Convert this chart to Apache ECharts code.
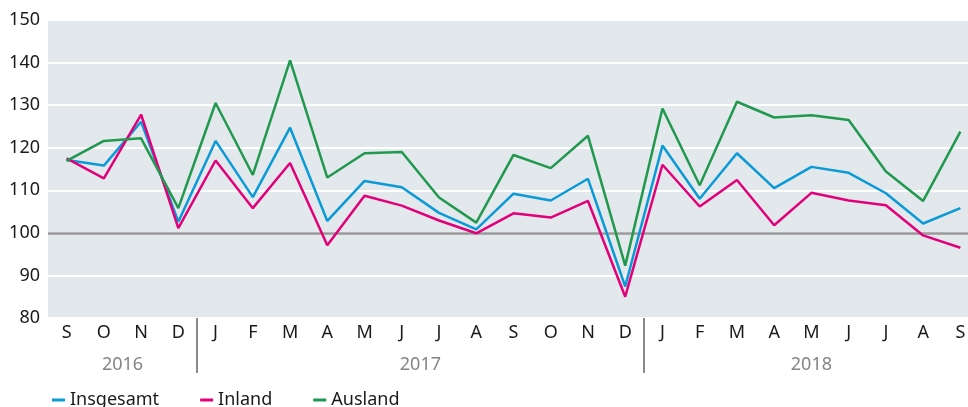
<!DOCTYPE html>
<html>
<head>
<meta charset="utf-8">
<script src="https://cdn.jsdelivr.net/npm/echarts@6/dist/echarts.min.js"></script>
<style>
  html, body { margin: 0; padding: 0; background: #fff; overflow: hidden; }
  /* Das Diagramm läuft rechts etwas über den Bildrand hinaus, wie im Original */
  #chart { width: 979px; height: 407px; }
</style>
</head>
<body>
<div id="chart"></div>
<script>
// Monate Sep 2016 – Sep 2018
const months = ['S', 'O', 'N', 'D', 'J', 'F', 'M', 'A', 'M', 'J', 'J', 'A', 'S', 'O', 'N', 'D', 'J', 'F', 'M', 'A', 'M', 'J', 'J', 'A', 'S']
// Jahre: Beschriftung in der Mitte der Gruppe, Trenner zwischen den Gruppen
const years = ['2016', '2017', '2018']
const yearCenters = [1.5, 9.5, 20]
const yearBreaks = [3.5, 15.5]
const yTicks = [80, 90, 100, 110, 120, 130, 140, 150]

const insgesamt = [117.1, 115.8, 126.1, 102.6, 121.6, 108.4, 124.7, 102.8, 112.2, 110.7, 104.7, 100.8, 109.2, 107.6, 112.7, 87.4, 120.5, 108.0, 118.7, 110.5, 115.5, 114.1, 109.3, 102.2, 105.8]
const inland = [117.5, 112.8, 127.8, 101.1, 117.0, 105.8, 116.4, 97.1, 108.7, 106.4, 102.9, 99.9, 104.6, 103.6, 107.5, 85.0, 116.0, 106.2, 112.4, 101.8, 109.4, 107.6, 106.5, 99.4, 96.5]
const ausland = [116.9, 121.6, 122.2, 105.8, 130.5, 113.6, 140.5, 113.0, 118.7, 119.0, 108.3, 102.4, 118.3, 115.2, 122.8, 92.3, 129.2, 111.2, 130.8, 127.1, 127.6, 126.5, 114.4, 107.5, 123.8]

const FONT = 'Noto Sans'
const chart = echarts.init(document.getElementById('chart'))

const line = (name, data, color) => ({
  name,
  type: 'line',
  data,
  symbol: 'none',
  lineStyle: {width: 2.5, color},
  itemStyle: {color},
  z: 3,
})

chart.setOption({
  animation: false,
  textStyle: {fontFamily: FONT},
  grid: {
    left: 48,
    right: 0,
    top: 20,
    bottom: 89,
    show: true,
    backgroundColor: '#e3e8ec',
    borderWidth: 0,
  },
  legend: {
    left: 47,
    top: 386,
    icon: 'rect',
    itemWidth: 13,
    itemHeight: 3,
    itemGap: 41,
    textStyle: {fontSize: 18, color: '#1a1a1a', fontFamily: FONT},
    data: ['Insgesamt', 'Inland', 'Ausland'],
  },
  xAxis: [
    {
      type: 'category',
      data: months,
      boundaryGap: true,
      axisLine: {show: false},
      axisTick: {show: false},
      axisLabel: {fontSize: 18, color: '#1a1a1a', margin: 6, interval: 0},
    },
    {
      // Jahresachse mit Trennern
      type: 'value',
      min: -0.5,
      max: months.length - 0.5,
      position: 'bottom',
      axisLine: {show: false},
      splitLine: {show: false},
      axisTick: {
        show: true,
        customValues: yearBreaks,
        length: 55,
        inside: false,
        lineStyle: {color: '#8a8a8a', width: 2},
      },
      axisLabel: {
        customValues: yearCenters,
        formatter: (v) => years[yearCenters.indexOf(v)],
        fontSize: 18,
        color: '#858585',
        margin: 38,
      },
    },
  ],
  yAxis: {
    type: 'value',
    min: yTicks[0],
    max: yTicks[yTicks.length - 1],
    interval: 10,
    axisLine: {show: false},
    axisTick: {show: false},
    axisLabel: {fontSize: 18, color: '#1a1a1a', margin: 8},
    splitLine: {lineStyle: {color: '#ffffff', width: 2}},
  },
  series: [
    line('Insgesamt', insgesamt, '#0a9ad6'),
    line('Inland', inland, '#e2007a'),
    {
      ...line('Ausland', ausland, '#20994f'),
      markLine: {
        silent: true,
        symbol: 'none',
        label: {show: false},
        lineStyle: {color: '#999999', width: 2.5, type: 'solid'},
        data: [{yAxis: 100}],
        z: 1,
      },
    },
  ],
})
</script>
</body>
</html>
